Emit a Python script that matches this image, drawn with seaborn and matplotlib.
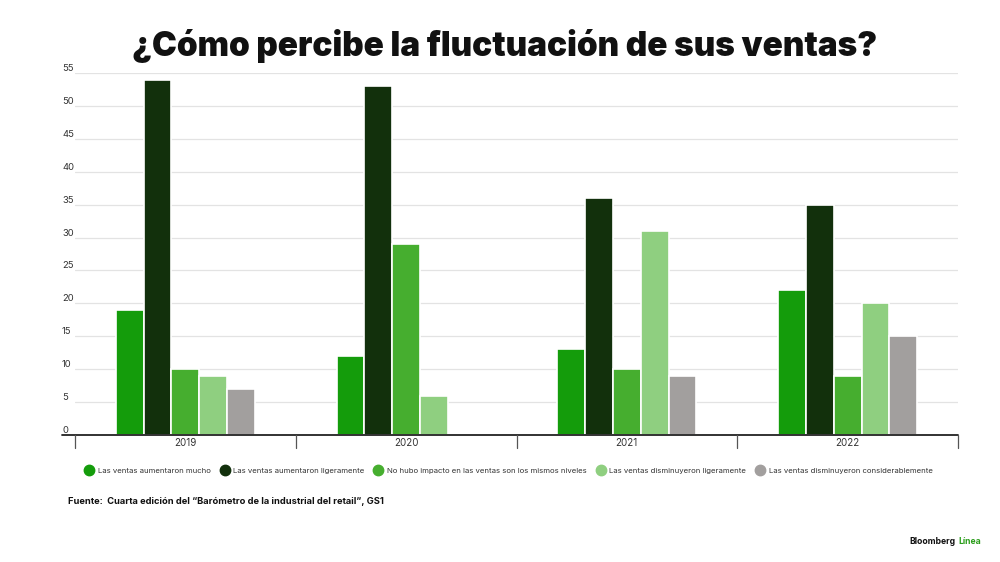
import matplotlib
matplotlib.use("Agg")
import matplotlib.pyplot as plt
import seaborn as sns
import pandas as pd
from matplotlib.lines import Line2D

# ── data ────────────────────────────────────────────────────────────────
years = ["2019", "2020", "2021", "2022"]
series = [
    "Las ventas aumentaron mucho",
    "Las ventas aumentaron ligeramente",
    "No hubo impacto en las ventas son los mismos niveles",
    "Las ventas disminuyeron ligeramente",
    "Las ventas disminuyeron considerablemente",
]
aumentaron_mucho = [19, 12, 13, 22]
aumentaron_ligeramente = [54, 53, 36, 35]
sin_impacto = [10, 29, 10, 9]
disminuyeron_ligeramente = [9, 6, 31, 20]
disminuyeron_considerablemente = [7, 0, 9, 15]
y_ticks = [0, 5, 10, 15, 20, 25, 30, 35, 40, 45, 50, 55]

colors = ["#149c0b", "#12300c", "#46ae2f", "#8fcf80", "#a29f9e"]

values = [aumentaron_mucho, aumentaron_ligeramente, sin_impacto,
          disminuyeron_ligeramente, disminuyeron_considerablemente]
rows = []
for name, vals in zip(series, values):
    for yr, v in zip(years, vals):
        rows.append({"year": yr, "serie": name, "value": v})
df = pd.DataFrame(rows)

sns.set_theme(style="white")
plt.rcParams["font.family"] = ["Inter", "DejaVu Sans"]

fig = plt.figure(figsize=(10, 5.62), dpi=100)
ax = fig.add_axes([0.075, 0.226, 0.883, 0.644])

sns.barplot(data=df, x="year", y="value", hue="serie", order=years,
            hue_order=series, palette=colors, width=0.63,
            edgecolor="white", linewidth=1.2, saturation=1,
            legend=False, ax=ax)

ax.set_ylim(0, 55)
ax.set_xlim(-0.5, 3.5)
ax.set_yticks(y_ticks)
ax.set_yticklabels([])
ax.tick_params(axis="both", length=0)
ax.grid(axis="y", color="#e3e3e3", linewidth=0.9)
ax.set_axisbelow(True)
for s in ax.spines.values():
    s.set_visible(False)
ax.set_xlabel("")
ax.set_ylabel("")

# y labels sit just above their gridline, left of the plot
for t in y_ticks:
    ax.text(-0.0147, t, str(t), transform=ax.get_yaxis_transform(),
            ha="left", va="bottom", fontsize=6.8, color="#333333")

# baseline and category separators
ax.axhline(0, xmin=-0.015, xmax=1.0, color="#222222", linewidth=1.3, clip_on=False)
for xb in [-0.5, 0.5, 1.5, 2.5, 3.5]:
    ax.plot([xb, xb], [0, -0.035], transform=ax.get_xaxis_transform(),
            color="#555555", linewidth=0.9, clip_on=False)
ax.set_xticks(range(len(years)))
ax.set_xticklabels(years, fontsize=7, color="#333333")
ax.tick_params(axis="x", pad=2)

# title
fig.text(0.505, 0.918, "¿Cómo percibe la fluctuación de sus ventas?",
         ha="center", va="center", fontsize=24, fontweight="black", color="#111111")

# legend
handles = [Line2D([0], [0], marker="o", linestyle="", markersize=7.5,
                  markerfacecolor=c, markeredgecolor=c) for c in colors]
fig.legend(handles, series, loc="center", bbox_to_anchor=(0.509, 0.163),
           ncol=5, frameon=False, fontsize=5.6, handletextpad=0.6,
           columnspacing=1.3, labelcolor="#333333", handlelength=1.0)

# source and brand
fig.text(0.068, 0.107, "Fuente:  Cuarta edición del “Barómetro de la industrial del retail”, GS1",
         ha="left", va="center", fontsize=6.7, fontweight="bold", color="#111111")
fig.text(0.955, 0.037, "Bloomberg", ha="right", va="center", fontsize=6.2,
         fontweight="bold", color="#111111")
fig.text(0.958, 0.037, "Línea", ha="left", va="center", fontsize=6.2,
         fontweight="bold", color="#2a9d1a")

fig.savefig("out.png", dpi=100)
